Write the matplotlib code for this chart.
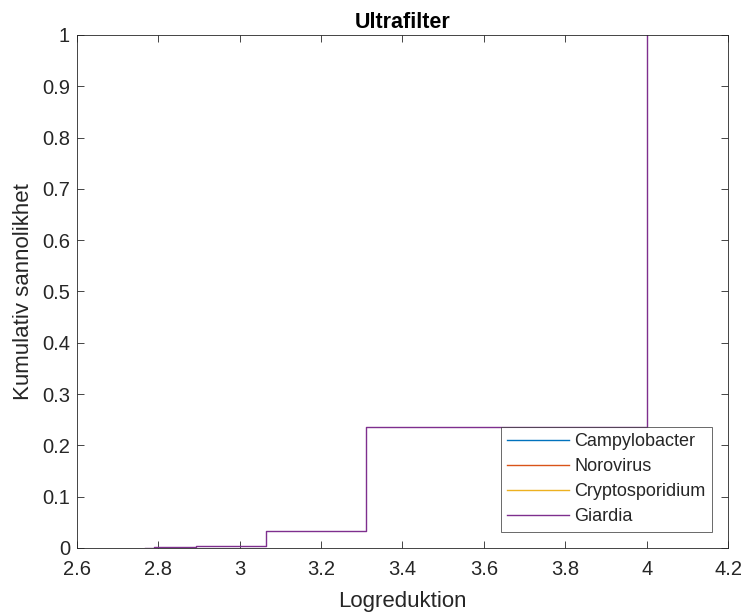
import numpy as np
import matplotlib
matplotlib.use("Agg")
import matplotlib.pyplot as plt

# ==========================================
# Data (empirisk fördelning)
# ==========================================
logred = [2.767, 2.79, 2.892, 3.064, 3.31, 4.0]
cumprob = [0.0, 0.001, 0.004, 0.034, 0.236, 1.0]

series = ["Campylobacter", "Norovirus", "Cryptosporidium", "Giardia"]
colors = ["#0072BD", "#D95319", "#EDB120", "#7E2F8E"]

xticks = [2.6, 2.8, 3.0, 3.2, 3.4, 3.6, 3.8, 4.0, 4.2]
xticklabels = ["2.6", "2.8", "3", "3.2", "3.4", "3.6", "3.8", "4", "4.2"]
yticks = [0, 0.1, 0.2, 0.3, 0.4, 0.5, 0.6, 0.7, 0.8, 0.9, 1]
yticklabels = ["0", "0.1", "0.2", "0.3", "0.4", "0.5", "0.6", "0.7", "0.8", "0.9", "1"]

# ==========================================
# Plot
# ==========================================
plt.rcParams["font.family"] = ["Liberation Sans", "DejaVu Sans"]
fig = plt.figure(figsize=(7.47, 6.12), dpi=100)
ax = fig.add_axes([0.103, 0.1046, 0.8716, 0.8384])

# kurvorna ligger ovanpå varandra, den sista (Giardia) syns
for i, (name, col) in enumerate(zip(series, colors)):
    lw = 1.0 if i == len(series) - 1 else 0.7
    ax.step(logred, cumprob, where="post", color=col, lw=lw, label=name)

ax.set_xlim(2.6, 4.2)
ax.set_ylim(0, 1)
ax.set_xticks(xticks)
ax.set_xticklabels(xticklabels)
ax.set_yticks(yticks)
ax.set_yticklabels(yticklabels)

axcol = "#262626"
ax.tick_params(direction="in", top=True, right=True, length=5, width=0.6,
               colors=axcol, labelsize=14.5)
ax.tick_params(axis="x", pad=9)
ax.tick_params(axis="y", pad=5)
for sp in ax.spines.values():
    sp.set_color(axcol)
    sp.set_linewidth(0.6)

ax.set_title("Ultrafilter", fontsize=15.5, fontweight="bold", color="black", pad=5)
ax.set_xlabel("Logreduktion", fontsize=16, color=axcol, labelpad=8)
ax.set_ylabel("Kumulativ sannolikhet", fontsize=16, color=axcol, labelpad=6)

leg = ax.legend(loc="lower right", fontsize=13, frameon=True, fancybox=False,
                edgecolor=axcol, borderaxespad=0.9, handlelength=3.4,
                handletextpad=0.3, labelspacing=0.45, borderpad=0.35)
leg.get_frame().set_linewidth(0.6)
for line in leg.get_lines():
    line.set_linewidth(1.0)
for t in leg.get_texts():
    t.set_color(axcol)

fig.savefig("out.png", dpi=100)
